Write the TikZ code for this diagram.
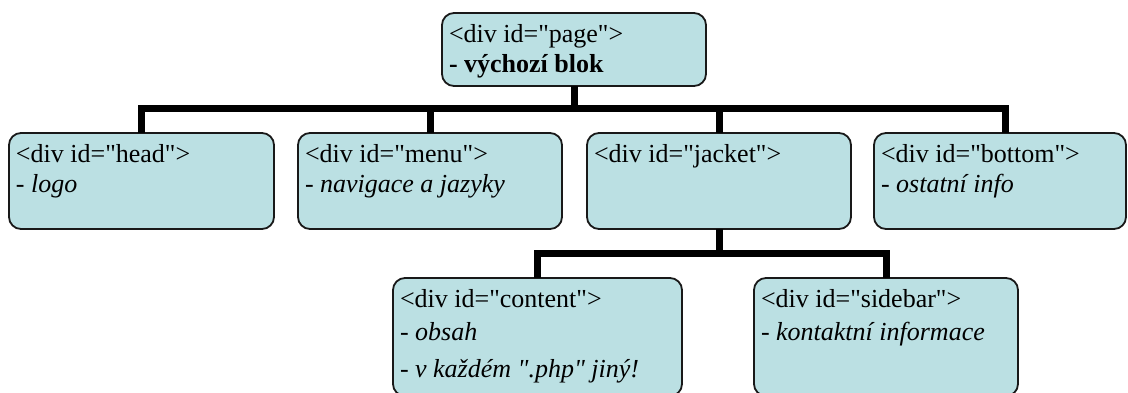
\documentclass[tikz,border=0pt]{standalone}
\usepackage{fontspec}
\setmainfont{Liberation Serif}[Ligatures=TeXOff]
\usepackage{tikz}
\definecolor{divfill}{RGB}{187,224,227}
\definecolor{divline}{RGB}{25,25,25}
\newcommand{\divtag}[1]{<div id="#1">}
\newcommand{\divtext}[3]{\parbox[c][#2][t]{#1}{#3}}
\tikzset{
  divbox/.style={draw=divline,fill=divfill,line width=1.8pt,rounded corners=12pt,
    anchor=north west,outer sep=0pt,inner xsep=7pt,inner ysep=11pt,
    font=\fontsize{26}{30}\selectfont},
  conn/.style={line width=7pt,black}
}

\begin{document}
\begin{tikzpicture}[x=1pt,y=-1pt]
  \useasboundingbox (0,0) rectangle (1128,392);
  \node[divbox] (page) at (442,13)
    {\divtext{250pt}{51pt}{\divtag{page}\\ \textbf{- výchozí blok}}};
  \node[divbox] (head) at (9,133)
    {\divtext{251pt}{74pt}{\divtag{head}\\ - \textit{logo}}};
  \node[divbox] (menu) at (298,133)
    {\divtext{250pt}{74pt}{\divtag{menu}\\ - \textit{navigace a jazyky}}};
  \node[divbox] (jacket) at (587,133)
    {\divtext{250pt}{74pt}{\divtag{jacket}}};
  \node[divbox] (bottom) at (874,133)
    {\divtext{238pt}{74pt}{\divtag{bottom}\\ - \textit{ostatní info}}};
  \node[divbox] (content) at (393,278)
    {\divtext{275pt}{96pt}{\divtag{content}\\[3pt] - \textit{obsah}\\[7pt] - \textit{v každém ".php" jiný!}}};
  \node[divbox] (sidebar) at (754,278)
    {\divtext{250pt}{96pt}{\divtag{sidebar}\\[3pt] - \textit{kontaktní informace}}};
  % connectors
  \coordinate (row1) at (0,108);
  \coordinate (row2) at (0,253);
  \coordinate (hub1) at (page.south |- row1);
  \coordinate (hub2) at (jacket.south |- row2);
  \draw[conn] (page.south) -- (hub1);
  \draw[conn] (hub1) -| (head.north);
  \draw[conn] (hub1) -| (menu.north);
  \draw[conn] (hub1) -| (jacket.north);
  \draw[conn] (hub1) -| ([xshift=5pt]bottom.north);
  \draw[conn] (jacket.south) -- (hub2);
  \draw[conn] (hub2) -| (content.north);
  \draw[conn] (hub2) -| (sidebar.north);
\end{tikzpicture}
\end{document}
